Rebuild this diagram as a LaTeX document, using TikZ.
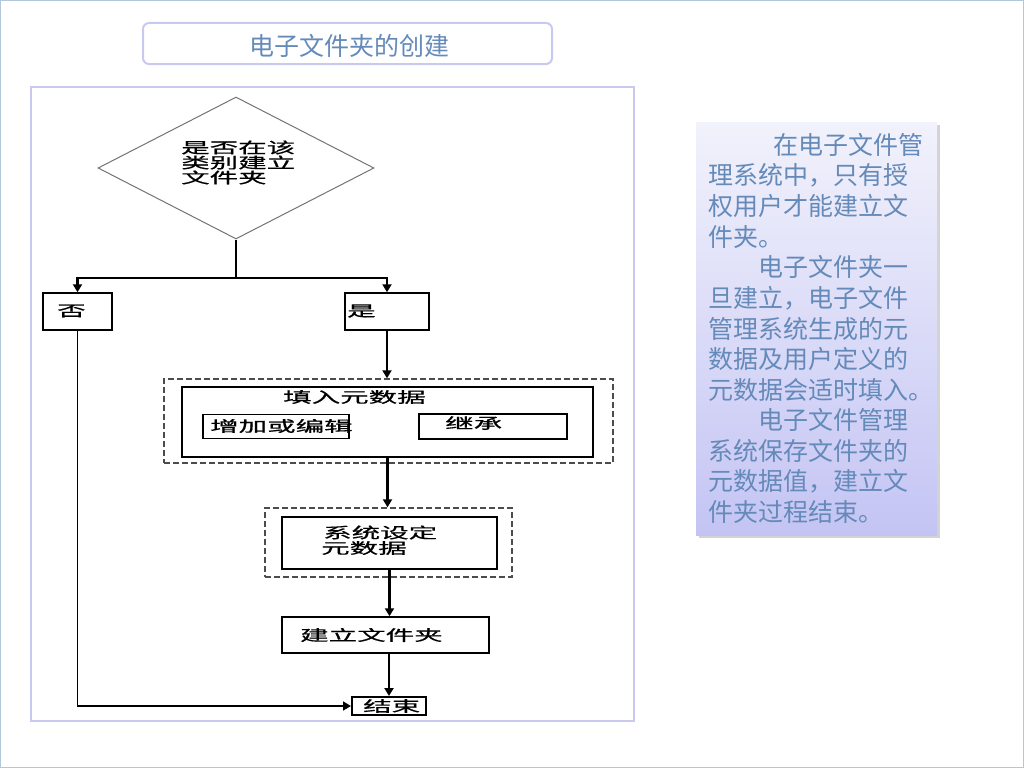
\documentclass[tikz,border=0pt]{standalone}
\usepackage{fontspec}
\usepackage{graphicx}
\setmainfont{Noto Sans CJK SC}
\newfontfamily\fcfont[FakeBold=0.6]{Noto Sans CJK SC}
\usetikzlibrary{arrows.meta,shadows,shapes.geometric}
\definecolor{frameblue}{RGB}{200,200,240}
\definecolor{textblue}{RGB}{100,138,185}
\definecolor{pageedge}{RGB}{180,198,218}
\definecolor{pantop}{RGB}{242,242,252}
\definecolor{panbot}{RGB}{196,196,244}
\newcommand{\fcx}[1]{\scalebox{1.9}[1]{#1}}
\begin{document}
\begin{tikzpicture}[x=1pt,y=-1pt,
  box/.style={draw=black, line width=2pt, inner sep=0pt},
  thinbox/.style={draw=black, line width=1.5pt, inner sep=0pt},
  dashbox/.style={draw=black!70, line width=1.4pt, dash pattern=on 6pt off 3pt, inner sep=0pt},
  fctext/.style={inner sep=0pt, anchor=west, font=\fcfont\fontsize{15}{15}\selectfont},
  ptext/.style={inner sep=0pt, anchor=west, text=textblue, font=\fontsize{25}{25}\selectfont},
  conn/.style={line width=2.3pt},
  arr/.style={conn, -{Triangle[width=9pt,length=8pt]}}]
\useasboundingbox (0,0) rectangle (1024,768);
% page edge
\draw[pageedge, line width=1pt] (0.5,0.5) rectangle (1023.5,767.5);
% title
\node[draw=frameblue, line width=2pt, rounded corners=6pt, minimum width=409pt, minimum height=41pt, inner sep=0pt] (title) at (347.5,43.5) {};
\node[inner sep=0pt, text=textblue, font=\fontsize{25}{25}\selectfont] (titletext) at (349,46) {电子文件夹的创建};
% flowchart frame
\node[draw=frameblue, line width=2pt, minimum width=603pt, minimum height=634pt, inner sep=0pt] (frame) at (332.5,404) {};
% diamond
\node[draw=black!55, line width=1pt, shape=diamond, minimum width=276pt, minimum height=142pt, inner sep=0pt] (dia) at (236,168) {};
\node[fctext] (d1) at (181,147.5) {\fcx{是否在该}};
\node[fctext] (d2) at (181,162.5) {\fcx{类别建立}};
\node[fctext] (d3) at (181,177.5) {\fcx{文件夹}};
% no / yes
\node[thinbox, minimum width=69pt, minimum height=37pt] (no) at (77.5,311.5) {};
\node[fctext] (tno) at (57,311) {\fcx{否}};
\node[thinbox, minimum width=84pt, minimum height=37pt] (yes) at (387,311.5) {};
\node[fctext] (tyes) at (347,311) {\fcx{是}};
% fill metadata
\node[dashbox, minimum width=449pt, minimum height=84pt] (filldash) at (388.5,421) {};
\node[box, minimum width=411pt, minimum height=70pt] (fillbox) at (387.5,422) {};
\node[fctext] (tfill) at (283,397) {\fcx{填入元数据}};
\node[thinbox, minimum width=146pt, minimum height=24pt] (addbox) at (276,426.5) {};
\node[fctext] (tadd) at (210,426) {\fcx{增加或编辑}};
\node[thinbox, minimum width=148pt, minimum height=25pt] (inhbox) at (493,426.5) {};
\node[fctext] (tinh) at (445,423) {\fcx{继承}};
% system metadata
\node[dashbox, minimum width=247pt, minimum height=69pt] (sysdash) at (388.5,542.5) {};
\node[box, minimum width=215pt, minimum height=52pt] (sysbox) at (389.5,543) {};
\node[fctext] (tsys1) at (323,532.5) {\fcx{系统设定}};
\node[fctext] (tsys2) at (321,548) {\fcx{元数据}};
% make folder
\node[thinbox, minimum width=207pt, minimum height=36pt] (mkbox) at (385.5,635) {};
\node[fctext] (tmk) at (300,635) {\fcx{建立文件夹}};
% end
\node[box, minimum width=74pt, minimum height=18pt] (endbox) at (389,706) {};
\node[fctext] (tend) at (363,706) {\fcx{结束}};
% connectors
\coordinate (split) at (236,278);
\draw[conn] (dia.south) -- (split);
\draw[arr] (split) -| (no.north);
\draw[arr] (split) -| (yes.north);
\draw[arr] (yes.south) -- (yes.south |- filldash.north);
\draw[arr] (fillbox.south) -- (fillbox.south |- sysdash.north);
\draw[arr] (sysbox.south) -- (sysbox.south |- mkbox.north);
\draw[arr] (mkbox.south -| endbox.north) -- (endbox.north);
\draw[arr, line width=1.5pt] (no.south) |- (endbox.west);
% side panel
\node[draw=none, top color=pantop, bottom color=panbot, minimum width=241pt, minimum height=413pt, inner sep=0pt,
      drop shadow={opacity=0.35, shadow xshift=2.5pt, shadow yshift=-2.5pt}] (panel) at (816.5,328.5) {};
\node[ptext] (p1) at (773,145) {在电子文件管};
\node[ptext] (p2) at (708,175.6) {理系统中，只有授};
\node[ptext] (p3) at (708,206.2) {权用户才能建立文};
\node[ptext] (p4) at (708,236.8) {件夹。};
\node[ptext] (p5) at (758,267.4) {电子文件夹一};
\node[ptext] (p6) at (708,298) {旦建立，电子文件};
\node[ptext] (p7) at (708,328.6) {管理系统生成的元};
\node[ptext] (p8) at (708,359.2) {数据及用户定义的};
\node[ptext] (p9) at (708,389.8) {元数据会适时填入。};
\node[ptext] (p10) at (758,420.4) {电子文件管理};
\node[ptext] (p11) at (708,451) {系统保存文件夹的};
\node[ptext] (p12) at (708,481.6) {元数据值，建立文};
\node[ptext] (p13) at (708,512.2) {件夹过程结束。};
\end{tikzpicture}
\end{document}
